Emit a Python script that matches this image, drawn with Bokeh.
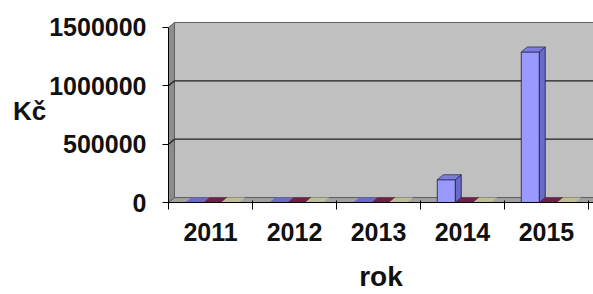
from bokeh.plotting import figure
from bokeh.models import FixedTicker, Range1d
from bokeh.embed import file_html
from bokeh.resources import INLINE

# ---- data ----
years = ["2011", "2012", "2013", "2014", "2015"]
series_a = [0, 0, 0, 195000, 1290000]      # blue
series_b = [0, 0, 0, 0, 0]                  # maroon
series_c = [0, 0, 0, 0, 0]                  # light yellow
y_ticks = [0, 500000, 1000000, 1500000]

# ---- styling / geometry ----
W, H = 593, 294
B_LEFT, B_TOP = 168, 18
frame_w = W - B_LEFT
frame_h = 184
B_BOTTOM = H - B_TOP - frame_h
x_end = 5.06
y_end = 1577000
px_x = x_end / frame_w          # data units per pixel
px_y = y_end / frame_h
dx = 6 * px_x                   # 3D depth offset
dy = 5 * px_y

p = figure(width=W, height=H, output_backend="svg", toolbar_location=None,
           x_range=Range1d(0, x_end), y_range=Range1d(0, y_end),
           min_border_left=B_LEFT, min_border_right=0, min_border_top=B_TOP,
           min_border_bottom=B_BOTTOM)
p.outline_line_color = None
p.grid.visible = False
p.background_fill_color = "white"
p.border_fill_color = "white"

n = len(years)
font = "Liberation Sans"

# back wall
p.patch([dx, x_end + 1, x_end + 1, dx], [dy, dy, y_ticks[-1] + dy, y_ticks[-1] + dy],
        fill_color="#C0C0C0", line_color="#606060", line_width=1)
# left side wall
p.patch([0, dx, dx, 0], [0, dy, y_ticks[-1] + dy, y_ticks[-1]],
        fill_color="#8C8C8C", line_color="#606060", line_width=1)
# floor
p.patch([0, x_end + 1, x_end + 1 + dx, dx], [0, 0, dy, dy],
        fill_color="#A0A0A0", line_color="#606060", line_width=1)

# gridlines on the back wall and side wall
for v in y_ticks[1:-1]:
    p.segment(x0=[dx], y0=[v + dy], x1=[x_end + 1], y1=[v + dy], line_color="#202020", line_width=1.3)
    p.segment(x0=[0], y0=[v], x1=[dx], y1=[v + dy], line_color="#202020", line_width=1.3)

bar_w = 0.214
start = 0.2
series = [
    (series_a, "#9999FF", "#6A6AC8", "#7C7CE0"),
    (series_b, "#993366", "#6E2249", "#7E2A55"),
    (series_c, "#FFFFCC", "#BDBD96", "#D6D6A8"),
]
for s_i, (vals, front, side, top) in enumerate(series):
    for i, v in enumerate(vals):
        x0 = i + start + s_i * bar_w
        x1 = x0 + bar_w
        if v > 0:
            p.patch([x1, x1 + dx, x1 + dx, x1], [0, dy, v + dy, v],
                    fill_color=side, line_color="#1A1A40", line_width=0.8)
            p.patch([x0, x1, x1, x0], [0, 0, v, v],
                    fill_color=front, line_color="#1A1A40", line_width=0.8)
        p.patch([x0, x1, x1 + dx, x0 + dx], [v, v, v + dy, v + dy],
                fill_color=top if v > 0 else side, line_color="#303050" if v > 0 else None,
                line_width=0.8)

# axes
yax = p.yaxis[0]
yax.ticker = FixedTicker(ticks=y_ticks)
yax.bounds = (0, y_ticks[-1])
yax.formatter.use_scientific = False
yax.major_tick_out = 6
yax.major_tick_in = 0
yax.minor_tick_line_color = None
yax.major_label_standoff = 16
yax.major_label_text_font = font
yax.major_label_text_font_style = "bold"
yax.major_label_text_font_size = "25px"
yax.major_label_text_color = "#111111"
yax.axis_label = "Kč"
yax.axis_label_orientation = "horizontal"
yax.axis_label_text_font = font
yax.axis_label_text_font_style = "bold"
yax.axis_label_text_font_size = "26px"
yax.axis_label_text_color = "#111111"
yax.axis_label_text_baseline = "alphabetic"
yax.axis_label_standoff = 0
yax.axis_line_color = "black"
yax.major_tick_line_color = "black"

xax = p.xaxis[0]
xax.ticker = FixedTicker(ticks=[i + 0.5 for i in range(n)], minor_ticks=list(range(n + 1)))
xax.major_label_overrides = {i + 0.5: y for i, y in enumerate(years)}
xax.major_tick_line_color = None
xax.major_tick_out = 0
xax.major_tick_in = 0
xax.minor_tick_out = 7
xax.minor_tick_in = 2
xax.minor_tick_line_color = "black"
xax.axis_line_color = "black"
xax.major_label_standoff = 13
xax.major_label_text_font = font
xax.major_label_text_font_style = "bold"
xax.major_label_text_font_size = "25px"
xax.major_label_text_color = "#111111"
xax.axis_label = "rok"
xax.axis_label_text_font = font
xax.axis_label_text_font_style = "bold"
xax.axis_label_text_font_size = "28px"
xax.axis_label_text_color = "#111111"
xax.axis_label_standoff = 17

open("out.html", "w").write(file_html(p, INLINE))
